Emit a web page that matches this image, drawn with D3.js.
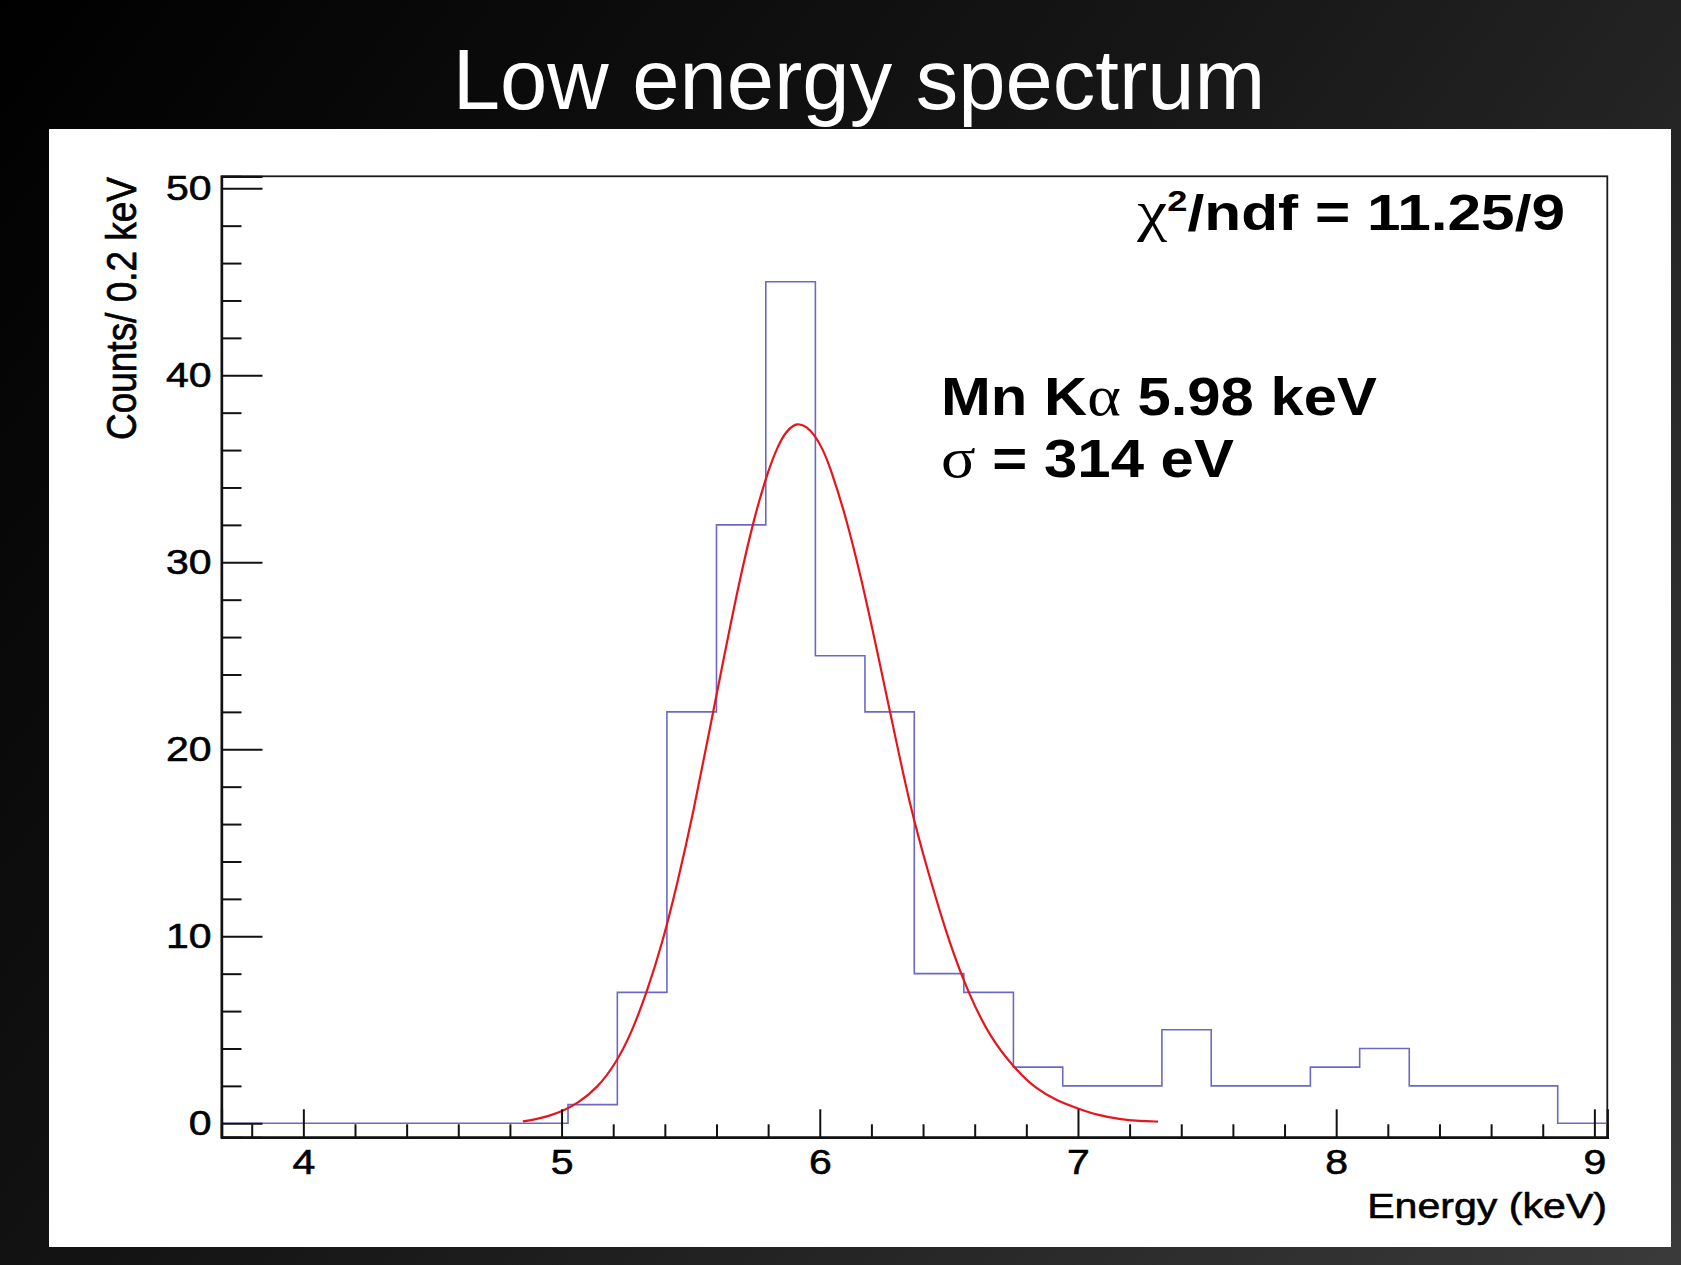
<!DOCTYPE html>
<html>
<head>
<meta charset="utf-8">
<script src="https://cdn.jsdelivr.net/npm/d3@7"></script>
<style>
  html, body { margin: 0; padding: 0; background: #000; }
  svg { display: block; }
  text { font-family: "Liberation Sans", Arial, Helvetica, sans-serif; }
</style>
</head>
<body>
<script>
// ---------------- data ----------------
const title = "Low energy spectrum";
const xLabel = "Energy (keV)";
const yLabel = "Counts/ 0.2 keV";

// histogram bin edges (keV) and counts per bin
const binEdges = [3.683, 3.875, 4.066, 4.258, 4.450, 4.641, 4.833, 5.025, 5.216, 5.408,
                  5.600, 5.791, 5.983, 6.175, 6.366, 6.558, 6.750, 6.941, 7.133, 7.325,
                  7.516, 7.708, 7.900, 8.091, 8.283, 8.475, 8.666, 8.858, 9.050];
const binCounts = [0, 0, 0, 0, 0, 0, 0, 1, 7, 22, 32, 45, 25, 22, 8, 7, 3, 2, 2, 5,
                   2, 2, 3, 4, 2, 2, 2, 0];

// fitted curve (red)
const fitEnergy = [4.85, 4.90, 4.95, 5.00, 5.06, 5.14, 5.21, 5.27, 5.33, 5.39, 5.45, 5.51,
                   5.57, 5.63, 5.69, 5.75, 5.80, 5.84, 5.87, 5.90, 5.92, 5.95, 5.98, 6.01,
                   6.04, 6.10, 6.16, 6.22, 6.28, 6.35, 6.42, 6.50, 6.58, 6.66, 6.75, 6.84,
                   6.92, 7.00, 7.08, 7.16, 7.24, 7.31];
const fitCounts = [0.10, 0.21, 0.39, 0.62, 1.04, 1.9, 3.2, 4.8, 7.0, 9.6, 12.9, 16.6,
                   20.8, 25.0, 29.1, 32.6, 34.9, 36.3, 37.0, 37.35, 37.4, 37.25, 36.8, 36.1,
                   35.1, 32.5, 29.2, 25.4, 21.5, 16.9, 13.4, 9.7, 6.8, 4.6, 3.0, 1.8,
                   1.2, 0.78, 0.42, 0.22, 0.12, 0.09];

const xTicks = [4, 5, 6, 7, 8, 9];
const yTicks = [0, 10, 20, 30, 40, 50];
const xDomain = [3.683, 9.05];
const yDomain = [-0.75, 50.64];

const chi2Text = ["χ", "2", "/ndf = 11.25/9"];
const lineText = ["Mn K", "α", " 5.98 keV"];
const sigmaText = ["σ", " = 314 eV"];

// ---------------- layout ----------------
const W = 1681, H = 1265;
const panel = {x: 49, y: 129, w: 1622, h: 1118};
const plot = {left: 221.5, right: 1607.3, top: 176.3, bottom: 1137.3};
const SX = 1.17; // horizontal stretch of the embedded chart image text

const svg = d3.select("body").append("svg").attr("width", W).attr("height", H);
const defs = svg.append("defs");
const grad = defs.append("linearGradient").attr("id", "bg")
  .attr("gradientUnits", "userSpaceOnUse")
  .attr("x1", 0).attr("y1", 0).attr("x2", W).attr("y2", H);
grad.append("stop").attr("offset", "0%").attr("stop-color", "#000000");
grad.append("stop").attr("offset", "45%").attr("stop-color", "#161616");
grad.append("stop").attr("offset", "100%").attr("stop-color", "#3a3a3a");

svg.append("rect").attr("width", W).attr("height", H).attr("fill", "url(#bg)");

svg.append("text")
  .attr("x", 859).attr("y", 109)
  .attr("text-anchor", "middle")
  .attr("font-size", 85)
  .attr("fill", "#ffffff")
  .text(title);

svg.append("rect")
  .attr("x", panel.x).attr("y", panel.y).attr("width", panel.w).attr("height", panel.h)
  .attr("fill", "#ffffff");

const x = d3.scaleLinear().domain(xDomain).range([plot.left, plot.right]);
const y = d3.scaleLinear().domain(yDomain).range([plot.bottom, plot.top]);

// frame
svg.append("rect")
  .attr("x", x(xDomain[0])).attr("y", y(yDomain[1]))
  .attr("width", x(xDomain[1]) - x(xDomain[0]))
  .attr("height", y(yDomain[0]) - y(yDomain[1]))
  .attr("fill", "none").attr("stroke", "#1a1a1a").attr("stroke-width", 1.8);

// histogram
const histPts = [];
binCounts.forEach((c, i) => {
  histPts.push([binEdges[i], c]);
  histPts.push([binEdges[i + 1], c]);
});
svg.append("path")
  .datum(histPts)
  .attr("d", d3.line().x(d => x(d[0])).y(d => y(d[1])))
  .attr("fill", "none").attr("stroke", "#6a6ac6").attr("stroke-width", 1.6);

// fit curve
svg.append("path")
  .datum(fitEnergy.map((e, i) => [e, fitCounts[i]]))
  .attr("d", d3.line().x(d => x(d[0])).y(d => y(d[1])).curve(d3.curveBasis))
  .attr("fill", "none").attr("stroke", "#e8141c").attr("stroke-width", 2.2);

// y axis
const yMinor = d3.range(0, 51, 2).filter(v => v % 10 !== 0);
const yAxisMinor = svg.append("g").attr("transform", `translate(${plot.left},0)`)
  .call(d3.axisLeft(y).tickValues(yMinor).tickSize(-20).tickFormat(""));
const yAxis = svg.append("g").attr("transform", `translate(${plot.left},0)`)
  .call(d3.axisLeft(y).tickValues(yTicks).tickSize(-41).tickPadding(10).tickFormat(d3.format("d")));

// x axis
const xMinor = d3.range(3.8, 9.01, 0.2).filter(v => Math.abs(v - Math.round(v)) > 0.05);
const xAxisMinor = svg.append("g").attr("transform", `translate(0,${plot.bottom})`)
  .call(d3.axisBottom(x).tickValues(xMinor).tickSize(-13).tickFormat(""));
const xAxis = svg.append("g").attr("transform", `translate(0,${plot.bottom})`)
  .call(d3.axisBottom(x).tickValues(xTicks).tickSize(-28).tickPadding(12).tickFormat(d3.format("d")));

[yAxisMinor, yAxis, xAxisMinor, xAxis].forEach(g => {
  g.select(".domain").attr("stroke", "#111").attr("stroke-width", 2.2);
  g.selectAll(".tick line").attr("stroke", "#111").attr("stroke-width", 2);
});
yAxis.selectAll(".tick text")
  .attr("font-size", 35).attr("fill", "#000")
  .attr("stroke", "#000").attr("stroke-width", 0.6)
  .attr("font-family", "'Liberation Sans', Arial, sans-serif")
  .each(function () {
    const t = d3.select(this);
    const xx = +t.attr("x");
    t.attr("x", 0).attr("transform", `translate(${xx},0) scale(${SX},1)`);
  });
xAxis.selectAll(".tick text")
  .attr("font-size", 35).attr("fill", "#000")
  .attr("stroke", "#000").attr("stroke-width", 0.6)
  .attr("font-family", "'Liberation Sans', Arial, sans-serif")
  .attr("transform", `scale(${SX},1)`);

// helper: text group stretched to a target width
function stretched(px, py, anchor, size, weight, parts, targetW, thicken) {
  const g = svg.append("g");
  const t = g.append("text").attr("text-anchor", anchor)
    .attr("font-size", size).attr("font-weight", weight).attr("fill", "#000");
  if (thicken) t.attr("stroke", "#000").attr("stroke-width", thicken);
  parts.forEach(p => {
    const s = t.append("tspan").text(p.t);
    if (p.serif) s.attr("font-family", "'Liberation Serif', 'DejaVu Serif', serif").attr("font-weight", "normal");
    if (p.size) s.attr("font-size", p.size);
    if (p.dy) s.attr("dy", p.dy);
  });
  const w = t.node().getBBox().width;
  const sx = targetW / w;
  g.attr("transform", `translate(${px},${py}) scale(${sx},1)`);
  return g;
}

// axis titles
stretched(1607, 1218, "end", 36, "normal", [{t: xLabel}], 240, 0.6);
{
  const g = svg.append("g").attr("transform", `translate(136,177) rotate(-90) scale(1,${SX})`);
  g.append("text").attr("text-anchor", "end").attr("font-size", 37).attr("fill", "#000")
    .attr("stroke", "#000").attr("stroke-width", 0.6)
    .attr("textLength", 263).attr("lengthAdjust", "spacingAndGlyphs")
    .text(yLabel);
}

// annotations
stretched(1565, 230, "end", 50, "bold", [
  {t: chi2Text[0], serif: true, size: 56},
  {t: chi2Text[1], size: 30, dy: -19},
  {t: chi2Text[2], dy: 19}
], 429);
stretched(941, 415, "start", 54, "bold", [
  {t: lineText[0]},
  {t: lineText[1], serif: true, size: 58},
  {t: lineText[2]}
], 436);
stretched(941, 477, "start", 54, "bold", [
  {t: sigmaText[0], serif: true, size: 58},
  {t: sigmaText[1]}
], 293);
</script>
</body>
</html>
